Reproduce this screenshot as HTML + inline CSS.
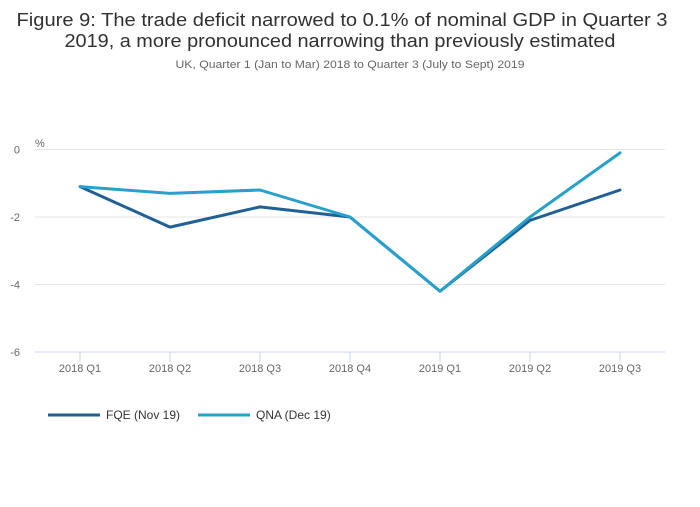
<!DOCTYPE html>
<html><head><meta charset="utf-8"><style>
body{margin:0;background:#fff;font-family:"Liberation Sans",sans-serif;}
</style></head><body>
<svg id="chart" width="700" height="502" xmlns="http://www.w3.org/2000/svg" font-family="Liberation Sans, sans-serif">
<text x="342" y="26" text-anchor="middle" font-size="18" fill="#323132" textLength="651" lengthAdjust="spacingAndGlyphs">Figure 9: The trade deficit narrowed to 0.1% of nominal GDP in Quarter 3</text>
<text x="340" y="47" text-anchor="middle" font-size="18" fill="#323132" textLength="551" lengthAdjust="spacingAndGlyphs">2019, a more pronounced narrowing than previously estimated</text>
<text x="350" y="68" text-anchor="middle" font-size="11" fill="#666" textLength="349" lengthAdjust="spacingAndGlyphs">UK, Quarter 1 (Jan to Mar) 2018 to Quarter 3 (July to Sept) 2019</text>
<text x="35" y="147" font-size="11" fill="#666">%</text>
<g id="grid"></g><g id="xaxis"></g><g id="series"></g>
<g>
<line x1="48" y1="415" x2="100" y2="415" stroke="#206095" stroke-width="3"/>
<text x="106" y="419" font-size="12" fill="#333">FQE (Nov 19)</text>
<line x1="198" y1="415" x2="250" y2="415" stroke="#27a0cc" stroke-width="3"/>
<text x="256" y="419" font-size="12" fill="#333">QNA (Dec 19)</text>
</g>
</svg>
<script>
const categories=["2018 Q1","2018 Q2","2018 Q3","2018 Q4","2019 Q1","2019 Q2","2019 Q3"];
const fqe=[-1.1,-2.3,-1.7,-2.0,-4.2,-2.1,-1.2];
const qna=[-1.1,-1.3,-1.2,-2.0,-4.2,-2.0,-0.1];
const yTicks=[0,-2,-4,-6];
const NS="http://www.w3.org/2000/svg";
const x=i=>80+i*90;
const y=v=>149.5+(0-v)*(352-149.5)/6;
function mk(tag,attrs,parent){const e=document.createElementNS(NS,tag);for(const k in attrs)e.setAttribute(k,attrs[k]);parent.appendChild(e);return e;}
const grid=document.getElementById('grid');
yTicks.forEach(t=>{
  const l=mk('line',{x1:35,x2:665,y1:y(t),y2:y(t),stroke:t===-6?'#ccd6eb':'#e6e6e6','stroke-width':1},grid);
  
  
  const tx=mk('text',{x:20,y:y(t)+4,'text-anchor':'end','font-size':11,fill:'#666'},grid);
  tx.textContent=t;
  
  
});
const xa=document.getElementById('xaxis');
categories.forEach((c,i)=>{
  const tk=mk('line',{x1:x(i),x2:x(i),y1:352,y2:362,stroke:'#ccd6eb'},xa);
  
  
  const tx=mk('text',{x:x(i),y:372,'text-anchor':'middle','font-size':11,fill:'#666'},xa);
  tx.textContent=c;
  
  
});
const sg=document.getElementById('series');
[[fqe,'#206095','fqe-line'],[qna,'#27a0cc','qna-line']].forEach(([d,col,name])=>{
  const p=mk('polyline',{points:d.map((v,i)=>x(i)+','+y(v)).join(' '),fill:'none',stroke:col,'stroke-width':3,'stroke-linejoin':'round','stroke-linecap':'round'},sg);
  
  
});
</script>
</body></html>
